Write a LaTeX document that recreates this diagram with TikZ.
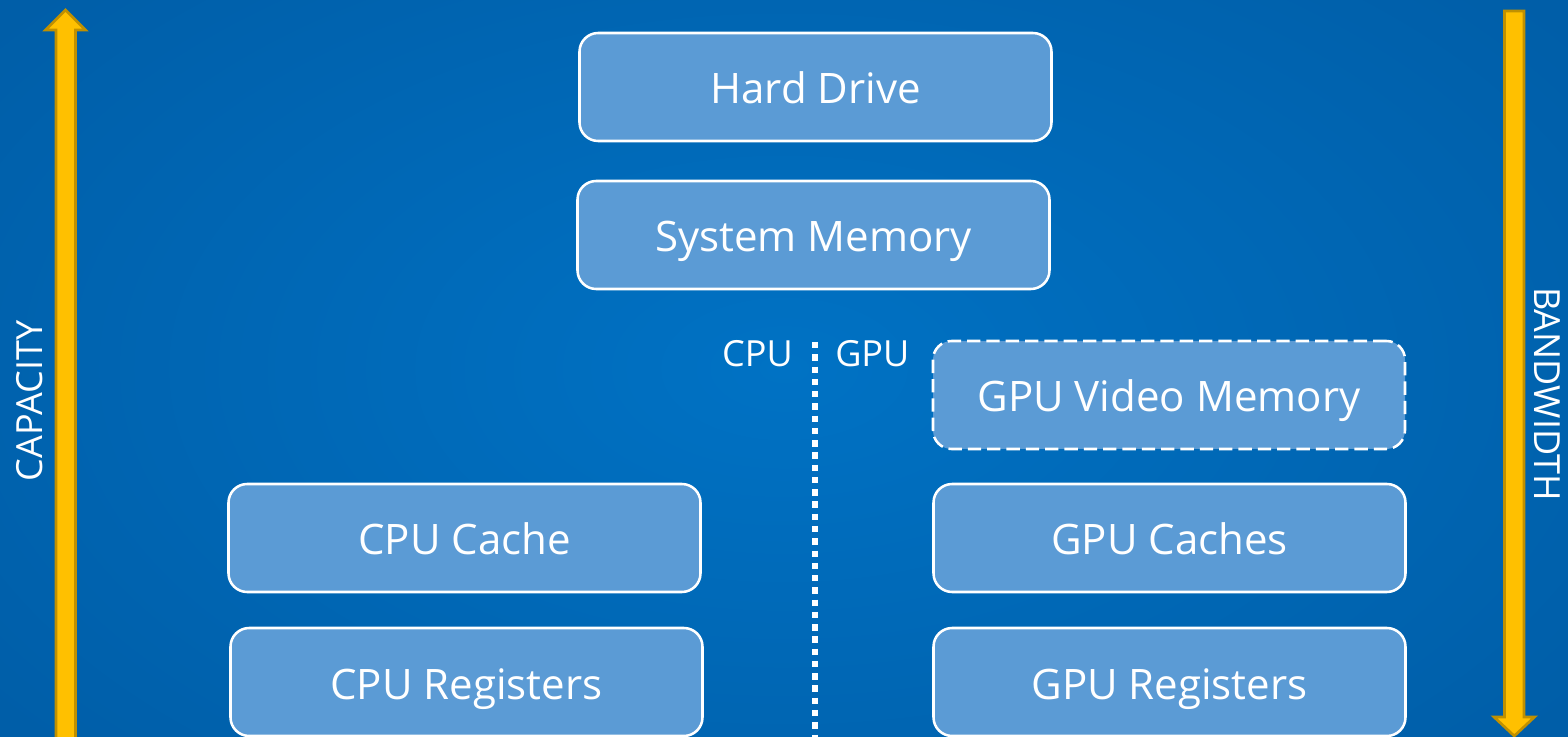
\documentclass[tikz,border=0pt]{standalone}
\usepackage{fontspec}
\setmainfont{Open Sans}
\begin{document}
\begin{tikzpicture}[x=0.75pt,y=0.75pt,
  level/.style={draw=white, line width=1.9pt, fill=boxblue, rounded corners=14pt,
    minimum width=354pt, minimum height=81pt, inner sep=0pt, text=white,
    text height=28pt, text depth=2.5pt,
    font=\fontsize{31.5}{38}\selectfont},
  dashedlevel/.style={level, dash pattern=on 10pt off 4.5pt},
  side/.style={text=white, font=\fontsize{27}{32}\selectfont, inner sep=0pt},
  goldarrow/.style={fill=gold, draw=golddark, line width=2pt, line join=miter}]
\definecolor{bgin}{HTML}{0072C4}
\definecolor{bgout}{HTML}{005EA8}
\definecolor{boxblue}{HTML}{5B9BD5}
\definecolor{gold}{HTML}{FFC000}
\definecolor{golddark}{HTML}{C09000}
\useasboundingbox (0,0) rectangle (1568,-737);
\begin{scope}
\clip (0,0) rectangle (1568,-737);
% background
\shade[inner color=bgin, outer color=bgout] (-200,200) rectangle (1768,-937);

% memory levels
\node[level] (hdd) at (815.5,-87) {Hard Drive};
\node[level] (sysmem) at (813.5,-235) {System Memory};
\node[dashedlevel] (vram) at (1169,-395) {GPU Video Memory};
\node[level] (cpucache) at (464.5,-538) {CPU Cache};
\node[level] (gpucache) at (1169.5,-538) {GPU Caches};
\node[level] (cpureg) at (466.5,-682) {CPU Registers};
\node[level] (gpureg) at (1169.5,-682) {GPU Registers};

% CPU / GPU divider
\coordinate (divtop) at (815,-342);
\coordinate (divbot) at (815,-745);
\draw[white, line width=4.8pt, dash pattern=on 4.8pt off 4.4pt] (divtop) -- (divbot);
\node[side, anchor=east] (cpulbl) at (793,-354) {CPU};
\node[side, anchor=west] (gpulbl) at (835,-354) {GPU};

% capacity arrow (upward)
\draw[goldarrow] (56,-760) -- (56,-30) -- (45.5,-30) -- (65.5,-10) -- (85.5,-30)
  -- (75.5,-30) -- (75.5,-760) -- cycle;
\node[side, rotate=90] (capacity) at (30,-401) {CAPACITY};

% bandwidth arrow (downward)
\draw[goldarrow] (1504.5,-11) -- (1524,-11) -- (1524,-717) -- (1534.5,-717)
  -- (1514.25,-736) -- (1494,-717) -- (1504.5,-717) -- cycle;
\node[side, rotate=-90] (bandwidth) at (1547,-394) {BANDWIDTH};
\end{scope}
\end{tikzpicture}
\end{document}
